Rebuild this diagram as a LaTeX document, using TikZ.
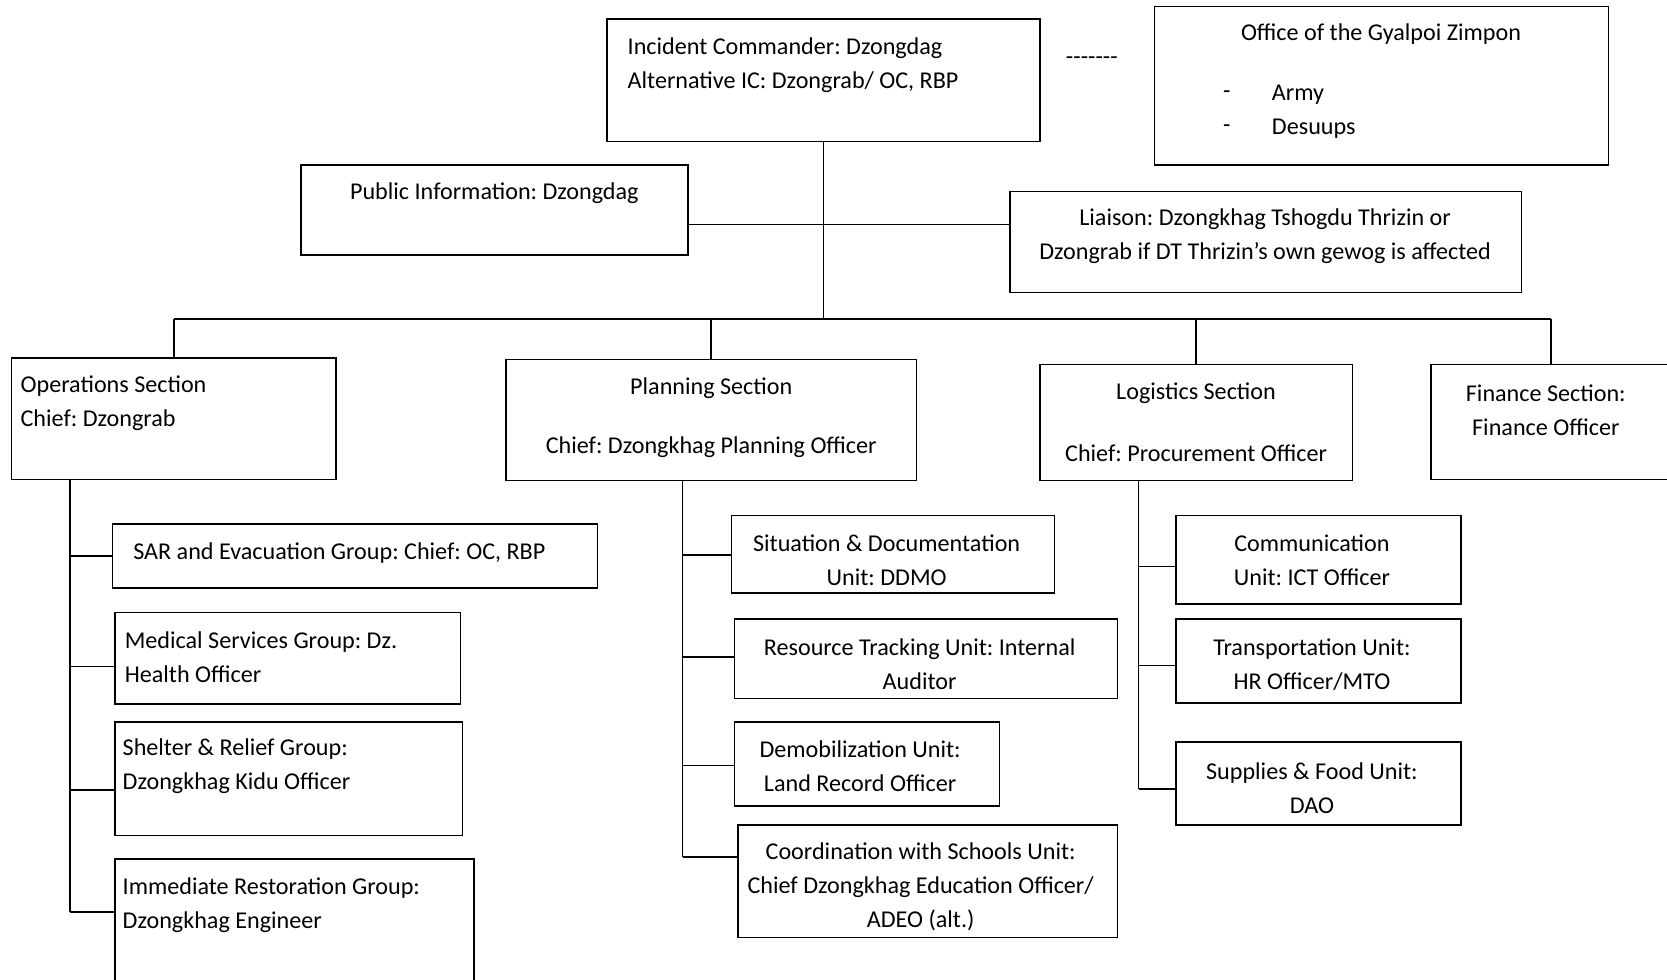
\documentclass[tikz,border=0pt]{standalone}
\usepackage{fontspec}
\setmainfont{Carlito}[Ligatures=TeXOff]
\usetikzlibrary{fit}
\begin{document}
\frenchspacing
\begin{tikzpicture}[x=0.5pt,y=-0.5pt,
  box/.style={draw, line width=0.75pt, inner sep=0pt, rectangle},
  txt/.style={inner sep=0pt, yshift=-1pt, font=\fontsize{11.35}{16}\selectfont},
  wire/.style={line width=0.75pt}]
\useasboundingbox (0,0) rectangle (1568,921);
\fill[white] (0,0) rectangle (1568,921);
\newcommand\orgbox[5]{\node[box, fit={(#2,#3) (#4,#5)}] (#1) {};}

% command level
\orgbox{ic}{571}{18}{978}{133}
\node[txt, anchor=west, align=left] (icT) at (590,59) {Incident Commander: Dzongdag\\Alternative IC: Dzongrab/ OC, RBP};
\node[txt] (link) at (1027,55) {-------};
\orgbox{off}{1086}{6}{1513}{155}
\node[txt] (offT) at (1299,30) {Office of the Gyalpoi Zimpon};
\node[txt, align=center] (offD) at (1154,103) {-\\-};
\node[txt, anchor=west, align=left] (offL) at (1196,103) {Army\\Desuups};

% command staff
\orgbox{pub}{283}{155}{647}{240}
\node[txt] (pubT) at (465,180) {Public Information: Dzongdag};
\orgbox{lia}{950}{180}{1431}{275}
\node[txt, align=center] (liaT) at (1190,220) {Liaison: Dzongkhag Tshogdu Thrizin or\\Dzongrab if DT Thrizin’s own gewog is affected};

% sections
\orgbox{ops}{11}{337}{316}{451}
\node[txt, anchor=west, align=left] (opsT) at (19,377.5) {Operations Section\\Chief: Dzongrab};
\orgbox{pla}{476}{338}{862}{452}
\node[txt] (plaA) at (669,363) {Planning Section};
\node[txt] (plaB) at (669,419) {Chief: Dzongkhag Planning Officer};
\orgbox{log}{978}{343}{1272}{452}
\node[txt] (logA) at (1125,368) {Logistics Section};
\node[txt] (logB) at (1125,424) {Chief: Procurement Officer};
\orgbox{fin}{1346}{343}{1572}{451}
\node[txt, align=center] (finT) at (1454,383.5) {Finance Section:\\Finance Officer};

% operations groups
\orgbox{sar}{106}{493}{562}{553}
\node[txt, anchor=west] (sarT) at (125,518) {SAR and Evacuation Group: Chief: OC, RBP};
\orgbox{med}{108}{576}{433}{662}
\node[txt, anchor=west, align=left] (medT) at (117,616.5) {Medical Services Group: Dz.\\Health Officer};
\orgbox{she}{108}{679}{435}{786}
\node[txt, anchor=west, align=left] (sheT) at (115,719) {Shelter \& Relief Group:\\Dzongkhag Kidu Officer};
\orgbox{imm}{108}{808}{446}{926}
\node[txt, anchor=west, align=left] (immT) at (115,849) {Immediate Restoration Group:\\Dzongkhag Engineer};

% planning units
\orgbox{sit}{688}{485}{992}{558}
\node[txt, align=center] (sitT) at (834,525) {Situation \& Documentation\\Unit: DDMO};
\orgbox{res}{691}{582}{1051}{657}
\node[txt, align=center] (resT) at (865,623) {Resource Tracking Unit: Internal\\Auditor};
\orgbox{dem}{691}{679}{940}{758}
\node[txt, align=center] (demT) at (809,719) {Demobilization Unit:\\Land Record Officer};
\orgbox{coo}{694}{776}{1051}{882}
\node[txt, align=center] (cooT) at (866,832) {Coordination with Schools Unit:\\Chief Dzongkhag Education Officer/\\ADEO (alt.)};

% logistics units
\orgbox{com}{1106}{485}{1374}{568}
\node[txt, align=center] (comT) at (1234,525) {Communication\\Unit: ICT Officer};
\orgbox{tra}{1106}{582}{1374}{661}
\node[txt, align=center] (traT) at (1234,623) {Transportation Unit:\\HR Officer/MTO};
\orgbox{sup}{1106}{698}{1374}{776}
\node[txt, align=center] (supT) at (1234,739) {Supplies \& Food Unit:\\DAO};

% connectors
\coordinate (barL) at (164,300);
\coordinate (barR) at (1459,300);
\coordinate (staff) at (775,211);
\draw[wire] (ic.south) -- (ic.south |- barL);
\draw[wire] (pub.east |- staff) -- (lia.west |- staff);
\draw[wire] (barL) -- (barR);
\draw[wire] (ops.north) -- (ops.north |- barL);
\draw[wire] (pla.north) -- (pla.north |- barL);
\draw[wire] (log.north) -- (log.north |- barL);
\draw[wire] (fin.north) -- (fin.north |- barL);

\coordinate (opsEnd) at (66,858);
\draw[wire] (ops.south -| opsEnd) -- (opsEnd);
\draw[wire] (sar.west) -- (sar.west -| opsEnd);
\draw[wire] (med.west |- 0,627) -- (opsEnd |- 0,627);
\draw[wire] (she.west |- 0,743) -- (opsEnd |- 0,743);
\draw[wire] (imm.west |- opsEnd) -- (opsEnd);

\coordinate (plaEnd) at (642,806);
\draw[wire] (pla.south -| plaEnd) -- (plaEnd);
\draw[wire] (sit.west |- 0,522) -- (plaEnd |- 0,522);
\draw[wire] (res.west |- 0,618) -- (plaEnd |- 0,618);
\draw[wire] (dem.west |- 0,720) -- (plaEnd |- 0,720);
\draw[wire] (coo.west |- plaEnd) -- (plaEnd);

\coordinate (logEnd) at (1071,742);
\draw[wire] (log.south -| logEnd) -- (logEnd);
\draw[wire] (com.west |- 0,533) -- (logEnd |- 0,533);
\draw[wire] (tra.west |- 0,626) -- (logEnd |- 0,626);
\draw[wire] (sup.west |- logEnd) -- (logEnd);
\end{tikzpicture}
\end{document}
